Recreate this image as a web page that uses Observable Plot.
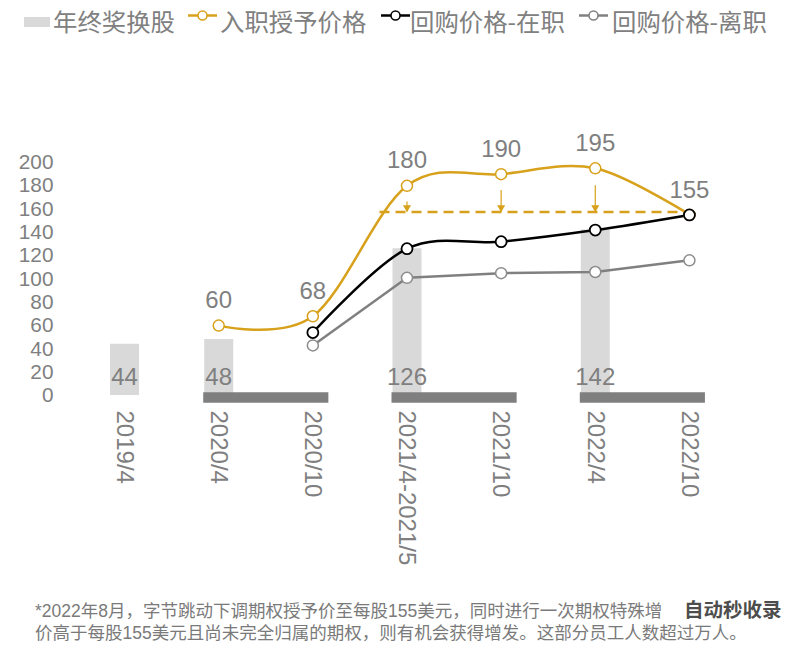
<!DOCTYPE html>
<html><head><meta charset="utf-8">
<script src="https://cdn.jsdelivr.net/npm/d3@7"></script>
<script src="https://cdn.jsdelivr.net/npm/@observablehq/plot@0.6"></script>
<style>
html,body{margin:0;padding:0;background:#fff;width:800px;height:661px;overflow:hidden;position:relative;}
#legend{position:absolute;left:0;top:0;width:800px;height:40px;}
.lgt{position:absolute;top:0;font-family:"Noto Sans CJK SC",sans-serif;font-size:24.4px;line-height:41px;color:#808080;white-space:nowrap;}
.lgm{position:absolute;top:0;}
#chart{position:absolute;left:0;top:40px;}
#note{position:absolute;left:35px;top:600px;font-family:"Liberation Sans","Noto Sans CJK SC",sans-serif;font-size:17.5px;line-height:22px;color:#7a7a7a;white-space:nowrap;}
#wmt{position:absolute;left:684px;top:598px;font-family:"Noto Sans CJK SC",sans-serif;font-weight:bold;font-size:19.5px;line-height:22px;color:#4d4d4d;white-space:nowrap;}
</style></head><body>
<div id="legend"></div>
<div id="chart"></div>
<div id="note"></div>
<div id="wmt"></div>
<script>
// ---- data ----
const categories = ["2019/4","2020/4","2020/10","2021/4-2021/5","2021/10","2022/4","2022/10"];
const yTicks = [0,20,40,60,80,100,120,140,160,180,200];

const bonusCats = ["2019/4","2020/4","2021/4-2021/5","2022/4"];
const bonusValues = [44,48,126,142];

const grantCats = ["2020/4","2020/10","2021/4-2021/5","2021/10","2022/4","2022/10"];
const grantValues = [60,68,180,190,195,155];

const buybackCats = ["2020/10","2021/4-2021/5","2021/10","2022/4","2022/10"];
const buybackActiveValues = [54,126,132,142,155];
const buybackLeftValues = [43,101,105,106,116];

const periodFrom = ["2020/4","2021/4-2021/5","2022/4"];
const periodTo = ["2020/10","2021/10","2022/10"];

const adjustedLevel = 157.5;
const adjustedFrom = "2021/4-2021/5";
const adjustedTo = "2022/10";
const arrowCats = ["2021/4-2021/5","2021/10","2022/4"];
const arrowTops = [166,176,180];

const legendLabels = ["年终奖换股","入职授予价格","回购价格-在职","回购价格-离职"];
const noteLines = [
  "*2022年8月，字节跳动下调期权授予价至每股155美元，同时进行一次期权特殊增",
  "价高于每股155美元且尚未完全归属的期权，则有机会获得增发。这部分员工人数超过万人。"
];
const watermark = "自动秒收录";

// ---- styles ----
const ORANGE = "#D8A11B", BLACK = "#000000", GRAY = "#808080", BAR = "#d9d9d9", DARK = "#7f7f7f", TXT = "#7f7f7f";

const idx = c => categories.indexOf(c);
const bonus = bonusCats.map((c,i) => ({i: idx(c), v: bonusValues[i]}));
const grant = grantCats.map((c,i) => ({i: idx(c), v: grantValues[i]}));
const active = buybackCats.map((c,i) => ({i: idx(c), v: buybackActiveValues[i]}));
const left = buybackCats.map((c,i) => ({i: idx(c), v: buybackLeftValues[i]}));
const periods = periodFrom.map((c,i) => ({a: idx(c), b: idx(periodTo[i])}));
const arrows = arrowCats.map((c,i) => ({i: idx(c), top: arrowTops[i]}));
const cats = categories.map((c,i) => ({i, c}));

const chart = Plot.plot({
  width: 800, height: 550,
  marginLeft: 77, marginRight: 64, marginTop: 122, marginBottom: 195,
  x: {type: "linear", domain: [-0.5, 6.5], axis: null, label: null},
  y: {domain: [0, 200], label: null},
  style: {fontFamily: '"Liberation Sans", Arial, sans-serif', fontSize: "24px", color: TXT, background: "transparent", overflow: "visible"},
  marks: [
    Plot.axisY({ticks: yTicks, tickSize: 0, tickPadding: 24, tickFormat: d => String(d), fill: TXT, fontSize: 20.8, label: null}),
    Plot.ruleX(bonus, {x: "i", y1: 0, y2: "v", stroke: BAR, strokeWidth: 29}),
    Plot.ruleY(periods, {x1: "a", x2: "b", y: 0, dy: 2, stroke: DARK, strokeWidth: 10.5, insetLeft: -15, insetRight: -16}),
    Plot.text(bonus, {x: "i", y: 0, text: d => String(d.v), dy: -18, fill: TXT, fontSize: 24}),
    Plot.text(cats, {x: "i", y: 0, text: "c", rotate: 90, textAnchor: "start", dy: 15, fill: TXT, fontSize: 24}),
    Plot.ruleY([adjustedLevel], {x1: idx(adjustedFrom), x2: idx(adjustedTo), y: d => d, stroke: ORANGE, strokeWidth: 2.5, strokeDasharray: "10,6", insetLeft: -27}),
    Plot.ruleX(arrows, {x: "i", y1: "top", y2: adjustedLevel, stroke: ORANGE, strokeWidth: 1.2}),
    Plot.dot(arrows, {x: "i", y: adjustedLevel, symbol: "triangle", rotate: 180, r: 3, fill: ORANGE, stroke: "none", dy: -4.5}),
    Plot.line(left, {x: "i", y: "v", stroke: GRAY, strokeWidth: 2.5}),
    Plot.line(active, {x: "i", y: "v", stroke: BLACK, strokeWidth: 2.5, curve: "cardinal"}),
    Plot.line(grant, {x: "i", y: "v", stroke: ORANGE, strokeWidth: 2.5, curve: "cardinal"}),
    Plot.dot(grant, {x: "i", y: "v", r: 5.5, fill: "white", stroke: ORANGE, strokeWidth: 1.5}),
    Plot.dot(left, {x: "i", y: "v", r: 5.5, fill: "white", stroke: "#8c8c8c", strokeWidth: 1.5}),
    Plot.dot(active, {x: "i", y: "v", r: 5.5, fill: "white", stroke: BLACK, strokeWidth: 1.8}),
    Plot.text(grant, {x: "i", y: "v", text: d => String(d.v), dy: -25, fill: TXT, fontSize: 24})
  ]
});
document.getElementById("chart").appendChild(chart);

// ---- legend ----
const lg = document.getElementById("legend");
function add(html, cls, x){ const d = document.createElement("div"); d.className = cls; d.style.left = x + "px"; d.innerHTML = html; lg.appendChild(d); return d; }
add('<svg width="26" height="40"><rect x="0" y="17" width="26" height="10" fill="'+BAR+'"/></svg>', "lgm", 24);
const markerColors = [ORANGE, BLACK, GRAY];
const markerX = [188, 381, 579];
markerColors.forEach((c,k) => {
  add('<svg width="29" height="40"><line x1="0" x2="29" y1="15.5" y2="15.5" stroke="'+c+'" stroke-width="2.5"/><circle cx="14.5" cy="15.5" r="4.5" fill="white" stroke="'+c+'" stroke-width="1.5"/></svg>', "lgm", markerX[k]);
});
const textX = [53, 220, 410, 612];
legendLabels.forEach((t,k) => { const d = add("", "lgt", textX[k]); d.textContent = t; });

// ---- note ----
const note = document.getElementById("note");
noteLines.forEach(l => { const d = document.createElement("div"); d.textContent = l; note.appendChild(d); });
document.getElementById("wmt").textContent = watermark;
</script>
</body></html>
